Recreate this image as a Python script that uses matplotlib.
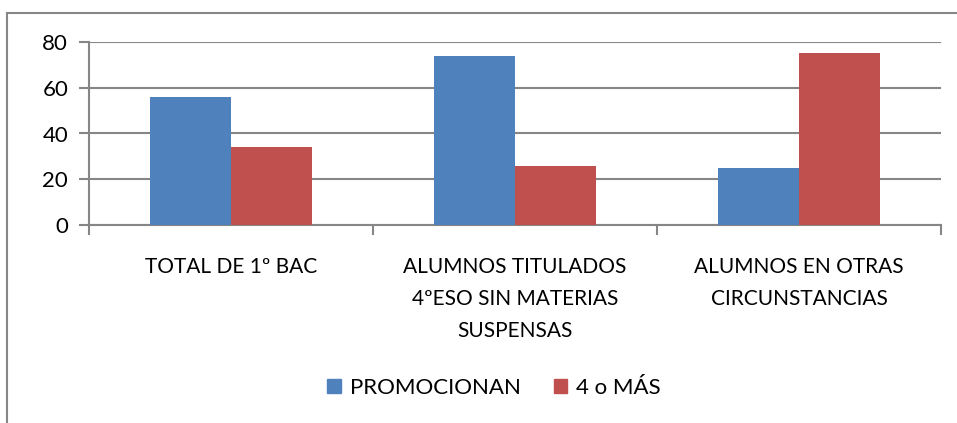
import matplotlib
matplotlib.use("Agg")
import matplotlib.pyplot as plt
from matplotlib.lines import Line2D
from matplotlib.patches import Patch
import numpy as np

categories = ["TOTAL DE 1º BAC",
              "ALUMNOS TITULADOS\n4ºESO SIN MATERIAS\nSUSPENSAS",
              "ALUMNOS EN OTRAS\nCIRCUNSTANCIAS"]
promocionan = [56, 74, 25]
cuatro_o_mas = [34, 26, 75]
series_names = ["PROMOCIONAN", "4 o MÁS"]
yticks = [0, 20, 40, 60, 80]

plt.rcParams['font.family'] = ['Lato', 'DejaVu Sans']
BLUE = "#4F81BD"
RED = "#C0504D"
GRID = "#868686"

W, H = 957, 423
fig = plt.figure(figsize=(W / 100, H / 100), dpi=100)
ax = fig.add_axes([89 / W, 1 - 225 / H, (941 - 89) / W, (225 - 42) / H])

x = np.arange(len(categories))
bw = 0.285
ax.bar(x - bw / 2, promocionan, bw, color=BLUE, zorder=3)
ax.bar(x + bw / 2, cuatro_o_mas, bw, color=RED, zorder=3)

ax.set_xlim(-0.5, len(categories) - 0.5)
ax.set_ylim(0, 80)
ax.set_yticks(yticks)
ax.set_yticklabels([str(v) for v in yticks], fontsize=16)
ax.yaxis.grid(True, color=GRID, linewidth=1.5, zorder=0)
ax.set_axisbelow(True)

ax.set_xticks(np.arange(len(categories) + 1) - 0.5)
ax.set_xticklabels([])
ax.set_xticks(x, minor=True)
ax.set_xticklabels(categories, minor=True, fontsize=15, linespacing=1.74)
ax.tick_params(axis='x', which='minor', length=0, pad=23)
ax.tick_params(axis='x', which='major', length=7, width=1.5, color=GRID, direction='out')
ax.tick_params(axis='y', length=7, width=1.5, color=GRID, direction='out', pad=8)

for s in ['top', 'right']:
    ax.spines[s].set_visible(False)
for s in ['left', 'bottom']:
    ax.spines[s].set_color(GRID)
    ax.spines[s].set_linewidth(1.5)

# outer chart frame (cropped on right and bottom)
fig.add_artist(Line2D([7 / W, 1.0], [1 - 13 / H, 1 - 13 / H], color=GRID, linewidth=1.5,
                      transform=fig.transFigure))
fig.add_artist(Line2D([7 / W, 7 / W], [0.0, 1 - 13 / H], color=GRID, linewidth=1.5,
                      transform=fig.transFigure))

handles = [Patch(color=BLUE, label=series_names[0]), Patch(color=RED, label=series_names[1])]
fig.legend(handles=handles, loc='center', bbox_to_anchor=(494 / W, 1 - 388 / H), ncol=2,
           frameon=False, fontsize=16, handlelength=0.6, handleheight=0.6,
           handletextpad=0.4, columnspacing=1.5)

fig.savefig("out.png", dpi=100)
